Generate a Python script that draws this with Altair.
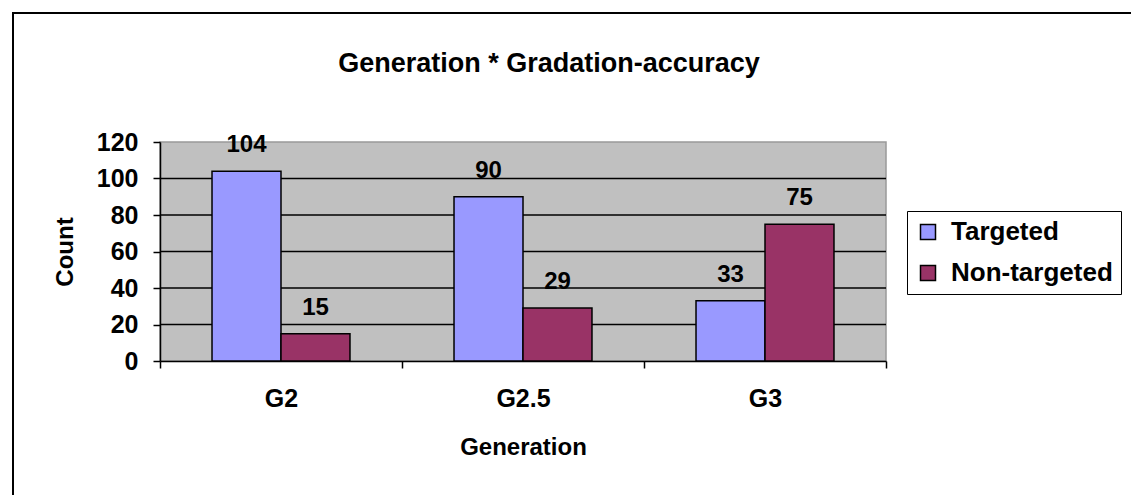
import altair as alt
import pandas as pd

generations = ["G2", "G2.5", "G3"]
series = ["Targeted", "Non-targeted"]
targeted = [104, 90, 33]
non_targeted = [15, 29, 75]
colors = ["#9999FF", "#993366"]
y_ticks = [0, 20, 40, 60, 80, 100, 120]
grid_values = [20, 40, 60, 80, 100]

rows = []
for g, t, n in zip(generations, targeted, non_targeted):
    rows.append({"Generation": g, "Group": series[0], "Count": t})
    rows.append({"Generation": g, "Group": series[1], "Count": n})
df = pd.DataFrame(rows)

FONT = "Liberation Sans"

x_axis = alt.Axis(
    title="Generation",
    labelAngle=0,
    labelFont=FONT, labelFontSize=25, labelFontWeight="bold", labelColor="black",
    labelPadding=18,
    titleFont=FONT, titleFontSize=24, titleFontWeight="bold", titleColor="black",
    titlePadding=24,
    domainColor="black", domainWidth=1.5,
    tickColor="black", tickWidth=1.5, tickSize=7, tickBand="extent",
    grid=False,
)
x_scale = alt.Scale(paddingInner=0, paddingOuter=0)
xoff_scale = alt.Scale(paddingInner=0, paddingOuter=0.754)

y_axis = alt.Axis(
    title="Count",
    values=y_ticks,
    labelOverlap=False,
    labelFont=FONT, labelFontSize=25, labelFontWeight="bold", labelColor="black",
    labelPadding=15,
    titleFont=FONT, titleFontSize=24, titleFontWeight="bold", titleColor="black",
    titlePadding=19,
    domainColor="black", domainWidth=1.5,
    tickColor="black", tickWidth=1.5, tickSize=7,
    grid=False,
)
y_scale = alt.Scale(domain=[0, 120])

base = alt.Chart(df)

grid = alt.Chart(pd.DataFrame({"Count": grid_values})).mark_rule(
    color="black", strokeWidth=1.5
).encode(y=alt.Y("Count:Q", scale=y_scale, axis=y_axis))

bars = base.mark_bar(stroke="black", strokeWidth=1.5).encode(
    x=alt.X("Generation:N", sort=generations, scale=x_scale, axis=x_axis),
    xOffset=alt.XOffset("Group:N", sort=series, scale=xoff_scale),
    y=alt.Y("Count:Q", scale=y_scale, axis=y_axis),
    color=alt.Color(
        "Group:N",
        sort=series,
        scale=alt.Scale(domain=series, range=colors),
        legend=alt.Legend(
            title=None,
            orient="none", legendX=747, legendY=69,
            labelFont=FONT, labelFontSize=26, labelFontWeight="bold", labelColor="black",
            labelLimit=400,
            symbolType="square", symbolSize=225, symbolStrokeColor="black",
            symbolStrokeWidth=1.5, symbolOpacity=1,
            labelOffset=10, rowPadding=15,
            padding=8, strokeColor="black", fillColor="white",
        ),
    ),
)

labels = base.mark_text(
    font=FONT, fontSize=24, fontWeight="bold", color="black", baseline="alphabetic", dy=-19
).encode(
    x=alt.X("Generation:N", sort=generations, scale=x_scale, axis=x_axis),
    xOffset=alt.XOffset("Group:N", sort=series, scale=xoff_scale),
    y=alt.Y("Count:Q", scale=y_scale, axis=y_axis),
    text="Count:Q",
)

frame = alt.Chart(pd.DataFrame({"a": [0]})).mark_rect(
    fill=None, stroke="black", strokeWidth=2
).encode(
    x=alt.value(-147), x2=alt.value(990), y=alt.value(-129), y2=alt.value(370)
)

chart = alt.layer(frame, grid, bars, labels).properties(
    width=726,
    height=219,
    background="white",
    title=alt.TitleParams(
        "Generation * Gradation-accuracy",
        font=FONT, fontSize=27, fontWeight="bold", color="black",
        anchor="middle", dx=26, offset=0, dy=87, baseline="alphabetic",
    ),
    autosize=alt.AutoSizeParams(type="none"),
    padding={"left": 160, "top": 142, "right": 245, "bottom": 134},
).configure_view(
    fill="#C0C0C0", stroke="#999999", strokeWidth=1.5
)

chart.save("out.html", embed_options={"renderer": "svg", "actions": False})
